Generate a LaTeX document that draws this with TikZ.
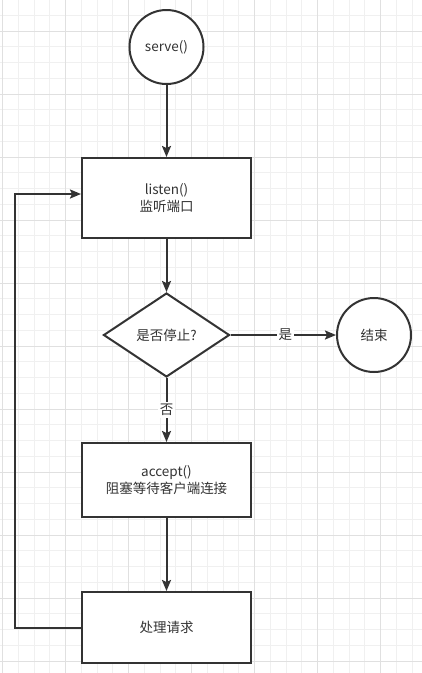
\documentclass[tikz,border=0pt]{standalone}
\usepackage{fontspec}
\setmainfont{Noto Sans CJK SC}
\usetikzlibrary{shapes.geometric,arrows.meta}
\definecolor{ink}{HTML}{333333}
\definecolor{gridminor}{HTML}{F0F0F0}
\definecolor{gridmajor}{HTML}{E0E0E0}
\tikzset{
  box/.style={draw=ink,line width=2pt,fill=white,text=ink,font=\fontsize{13.5}{17}\selectfont,align=center,inner sep=0pt},
  roundnode/.style={circle,draw=ink,line width=2pt,fill=white,text=ink,font=\fontsize{13.5}{17}\selectfont,minimum size=74pt,inner sep=0pt},
  decision/.style={diamond,draw=ink,line width=2pt,fill=white,text=ink,font=\fontsize{13.5}{17}\selectfont,minimum width=126pt,minimum height=84pt,inner sep=0pt,aspect=1.5},
  flow/.style={draw=ink,line width=2pt,-{Stealth[length=11pt,width=9pt,inset=2pt]}},
  lbl/.style={fill=white,text=ink,font=\fontsize{13.5}{15}\selectfont,inner sep=2pt}
}
\begin{document}
\begin{tikzpicture}[x=1pt,y=-1pt]
\useasboundingbox (0,0) rectangle (422,673);
\fill[white] (0,0) rectangle (422,673);
% grid
\foreach \k in {0,...,26} {
  \pgfmathsetmacro{\xx}{2.7+15.75*\k}
  \draw[gridminor,line width=1pt] (\xx,0) -- (\xx,673);
}
\foreach \k in {0,...,43} {
  \pgfmathsetmacro{\yy}{-0.5+15.75*\k}
  \draw[gridminor,line width=1pt] (0,\yy) -- (422,\yy);
}
\foreach \k in {0,4,...,24} {
  \pgfmathsetmacro{\xx}{2.7+15.75*\k}
  \draw[gridmajor,line width=1pt] (\xx,0) -- (\xx,673);
}
\foreach \k in {2,6,...,42} {
  \pgfmathsetmacro{\yy}{-0.5+15.75*\k}
  \draw[gridmajor,line width=1pt] (0,\yy) -- (422,\yy);
}
% nodes
\node[roundnode] (serve) at (166.5,47) {serve()};
\node[box,minimum width=169pt,minimum height=80pt] (listen) at (166.5,198) {listen()\\监听端口};
\node[decision] (stop) at (166.5,335) {是否停止?};
\node[roundnode] (end) at (374,335) {结束};
\node[box,minimum width=169pt,minimum height=74pt] (accept) at (166.5,480) {accept()\\阻塞等待客户端连接};
\node[box,minimum width=169pt,minimum height=71pt] (proc) at (166.5,627.5) {处理请求};
\coordinate (loopin) at ([yshift=4pt]listen.west);
\coordinate (loopcorner) at (15,0);
% connectors
\draw[flow] (serve) -- (listen);
\draw[flow] (listen) -- (stop);
\draw[flow] (stop) -- node[lbl,pos=0.52] {是} (end);
\draw[flow] (stop) -- node[lbl,pos=0.5] {否} (accept);
\draw[flow] (accept) -- (proc);
\draw[flow] (proc.west) -| (loopcorner |- proc.west) |- (loopin);
\end{tikzpicture}
\end{document}
